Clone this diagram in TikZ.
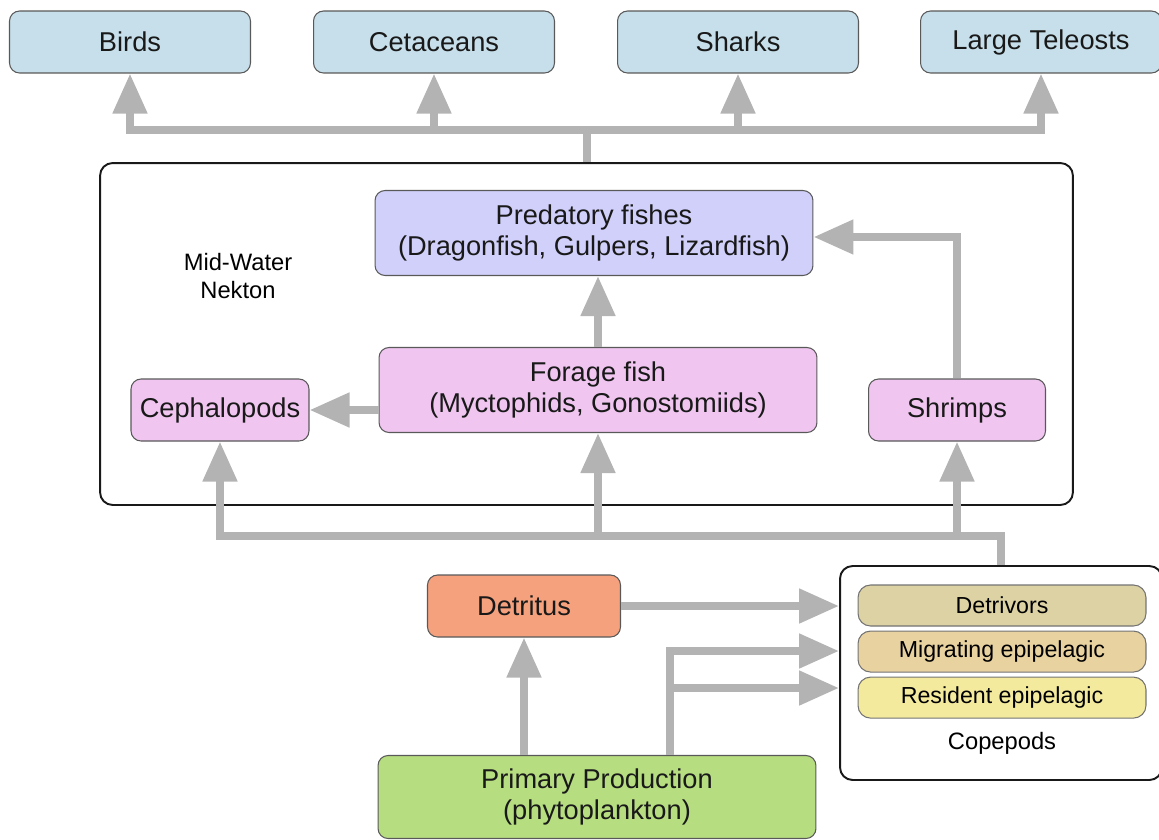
\documentclass[tikz,border=0pt]{standalone}
\usepackage{fontspec}
\setmainfont{Liberation Sans}
\usepackage{tikz}
\usetikzlibrary{positioning,arrows.meta}
\definecolor{sky}{HTML}{C6DFEA}
\definecolor{lav}{HTML}{D0D0FB}
\definecolor{pinkbox}{HTML}{F0C6F0}
\definecolor{salmon}{HTML}{F6A17E}
\definecolor{leaf}{HTML}{B6DD80}
\definecolor{detr}{HTML}{DCD2A4}
\definecolor{migr}{HTML}{E8D2A0}
\definecolor{resid}{HTML}{F4EA9E}
\definecolor{flowgray}{HTML}{B3B3B3}

\begin{document}
\begin{tikzpicture}[x=0.02cm, y=-0.02cm,
  blk/.style={draw=black!65, line width=0.6pt, rounded corners=0.2cm,
              inner sep=2pt, align=center, text=black!90,
              font=\fontsize{15.5}{17.5}\selectfont},
  grp/.style={draw=black!90, line width=1.1pt, rounded corners=0.25cm},
  lay/.style={draw=black!55, line width=0.6pt, rounded corners=0.25cm,
              minimum width=5.76cm, minimum height=0.82cm, inner sep=1pt,
              font=\fontsize{13.2}{15}\selectfont},
  ln/.style={draw=flowgray, line width=0.16cm},
  bus/.style={ln, line cap=rect},
  arr/.style={ln, -{Triangle[length=0.8cm, width=0.66cm]}}]
\useasboundingbox (0,0) rectangle (1159,839);
% top predators
\node[blk, fill=sky, minimum width=4.82cm, minimum height=1.24cm] (birds) at (130,42) {Birds};
\node[blk, fill=sky, minimum width=4.82cm, minimum height=1.24cm] (ceta) at (434,42) {Cetaceans};
\node[blk, fill=sky, minimum width=4.82cm, minimum height=1.24cm] (shark) at (738,42) {Sharks};
\node[blk, fill=sky, minimum width=4.82cm, minimum height=1.24cm] (tele) at (1041,42) {Large Teleosts};
% mid-water nekton
\node[grp, minimum width=19.46cm, minimum height=6.84cm] (mid) at (586.5,334) {};
\node[font=\fontsize{13.5}{16}\selectfont, align=center] (nek) at (238,276) {Mid-Water\\Nekton};
\node[blk, fill=lav, minimum width=8.76cm, minimum height=1.7cm] (pred) at (594,233)
  {Predatory fishes\\(Dragonfish, Gulpers, Lizardfish)};
\node[blk, fill=pinkbox, minimum width=8.76cm, minimum height=1.7cm] (forage) at (598,390)
  {Forage fish\\(Myctophids, Gonostomiids)};
\node[blk, fill=pinkbox, minimum width=3.56cm, minimum height=1.24cm] (ceph) at (220,410) {Cephalopods};
\node[blk, fill=pinkbox, minimum width=3.54cm, minimum height=1.24cm] (shrimp) at (957,410) {Shrimps};
% lower part
\node[blk, fill=salmon, minimum width=3.86cm, minimum height=1.24cm] (det) at (524,606) {Detritus};
\node[blk, fill=leaf, minimum width=8.76cm, minimum height=1.66cm] (prim) at (597,797)
  {Primary Production\\(phytoplankton)};
\node[grp, minimum width=6.44cm, minimum height=4.28cm] (cop) at (1001,673) {};
\node[lay, fill=detr] (l1) at (1002,605.5) {Detrivors};
\node[lay, fill=migr, below=0.08cm of l1] (l2) {Migrating epipelagic};
\node[lay, fill=resid, below=0.08cm of l2] (l3) {Resident epipelagic};
\node[font=\fontsize{13.5}{16}\selectfont, below=0.14cm of l3] (coplbl) {Copepods};
% flows up to top predators
\coordinate (tj) at (586.5,130);
\draw[ln] (mid.north) -- (tj);
\draw[bus] (birds |- tj) -- (tele |- tj);
\draw[arr] (birds |- tj) -- (birds.south);
\draw[arr] (ceta |- tj) -- (ceta.south);
\draw[arr] (shark |- tj) -- (shark.south);
\draw[arr] (tele |- tj) -- (tele.south);
% inside the nekton box
\draw[arr] (forage.north) -- (forage.north |- pred.south);
\draw[arr] (forage.west |- ceph.east) -- (ceph.east);
\draw[arr] (shrimp.north) |- ([yshift=-0.08cm]pred.east);
% copepods feed the nekton
\coordinate (bj) at (1001,536);
\draw[ln] (cop.north) -- (bj);
\draw[bus] (ceph |- bj) -- (bj);
\draw[arr] (ceph |- bj) -- (ceph.south);
\draw[arr] (forage |- bj) -- (forage.south);
\draw[arr] (shrimp |- bj) -- (shrimp.south);
% base of the web
\draw[arr] (det |- prim.north) -- (det.south);
\draw[arr] (det.east) -- (cop.west |- det.east);
\coordinate (pj) at (670,651);
\draw[arr] (pj |- prim.north) -- (pj) -- (cop.west |- pj);
\coordinate (pk) at (670,688);
\draw[arr] (pk) -- (cop.west |- pk);
\end{tikzpicture}
\end{document}
